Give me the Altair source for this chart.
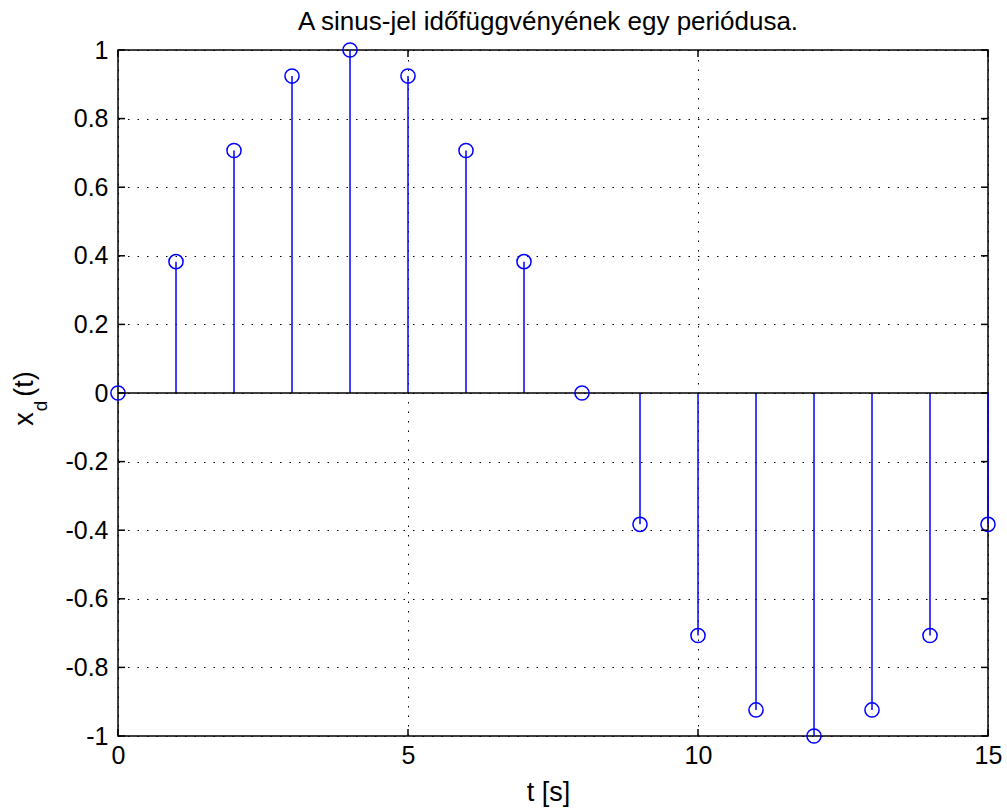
import altair as alt
import pandas as pd

t = list(range(16))
xd = [0.0, 0.383, 0.707, 0.924, 1.0, 0.924, 0.707, 0.383,
      0.0, -0.383, -0.707, -0.924, -1.0, -0.924, -0.707, -0.383]
x_ticks = [0, 5, 10, 15]
y_ticks = [-1.0, -0.8, -0.6, -0.4, -0.2, 0.0, 0.2, 0.4, 0.6, 0.8, 1.0]
title_text = "A sinus-jel időfüggvényének egy periódusa."
x_title = "t [s]"

W, H = 870, 686
FONT = "Liberation Sans"
FS = 25
BLUE = "#0000ff"
TICK = 7

df = pd.DataFrame({"t": t, "x": xd})
xs = alt.Scale(domain=[0, 15], nice=False, zero=False)
ys = alt.Scale(domain=[-1, 1], nice=False, zero=False)

common_axis = dict(grid=True, gridColor="black", gridDash=[1.5, 8], gridWidth=1,
                   gridOpacity=1, ticks=False, domain=False, labelFont=FONT,
                   labelFontSize=FS, labelColor="black", labelFlush=False)

xaxis = alt.Axis(values=x_ticks, title=x_title, labelPadding=7,
                 titleFont=FONT, titleFontSize=27, titleFontWeight="normal",
                 titleColor="black", titleX=430, titleY=64,
                 titleBaseline="alphabetic", **common_axis)
yaxis = alt.Axis(values=y_ticks, title="", labelPadding=10,
                 labelExpr="toString(round(datum.value*10)/10)", **common_axis)

def X(f):
    return alt.X(f, scale=xs, axis=xaxis)

def Y(f):
    return alt.Y(f, scale=ys, axis=yaxis)

base = alt.Chart(df)

stems = base.mark_rule(color=BLUE, strokeWidth=1.5).encode(
    x=X("t:Q"), y=Y("x:Q"), y2=alt.datum(0),
)

baseline = alt.Chart(pd.DataFrame({"z": [0]})).mark_rule(
    color="black", strokeWidth=1.5
).encode(y=Y("z:Q"))

points = base.mark_point(shape="circle", filled=False, size=200, strokeWidth=1.5,
                         color=BLUE, opacity=1).encode(x=X("t:Q"), y=Y("x:Q"))

xt = alt.Chart(pd.DataFrame({"v": x_ticks}))
yt = alt.Chart(pd.DataFrame({"v": y_ticks}))
tick_style = dict(color="black", strokeWidth=1.5)

xt_bottom = xt.mark_rule(**tick_style).encode(
    x=X("v:Q"), y=alt.value(H), y2=alt.value(H - TICK))
xt_top = xt.mark_rule(**tick_style).encode(
    x=X("v:Q"), y=alt.value(0), y2=alt.value(TICK))
yt_left = yt.mark_rule(**tick_style).encode(
    y=Y("v:Q"), x=alt.value(0), x2=alt.value(TICK))
yt_right = yt.mark_rule(**tick_style).encode(
    y=Y("v:Q"), x=alt.value(W - TICK), x2=alt.value(W))

one = alt.Chart(pd.DataFrame({"k": [0]}))
ylab_x = one.mark_text(text="x", angle=270, font=FONT, fontSize=27, align="center",
                       baseline="alphabetic", color="black").encode(
    x=alt.value(-85), y=alt.value(369))
ylab_d = one.mark_text(text="d", angle=270, font=FONT, fontSize=19, align="center",
                       baseline="alphabetic", color="black").encode(
    x=alt.value(-71), y=alt.value(356))
ylab_t = one.mark_text(text="(t)", angle=270, font=FONT, fontSize=27, align="center",
                       baseline="alphabetic", color="black").encode(
    x=alt.value(-85), y=alt.value(334))

chart = alt.layer(
    stems, baseline, points, xt_bottom, xt_top, yt_left, yt_right,
    ylab_x, ylab_d, ylab_t,
).properties(
    width=W, height=H,
    title=alt.TitleParams(title_text, font=FONT, fontSize=26, fontWeight="normal",
                          color="black", offset=3, dx=-5),
    autosize=alt.AutoSizeParams(type="none"),
    padding={"left": 118, "top": 50, "right": 19, "bottom": 75},
    background="white",
).configure_view(stroke="black", strokeWidth=1.5)

chart.save("out.html", embed_options={"renderer": "svg", "actions": False})
